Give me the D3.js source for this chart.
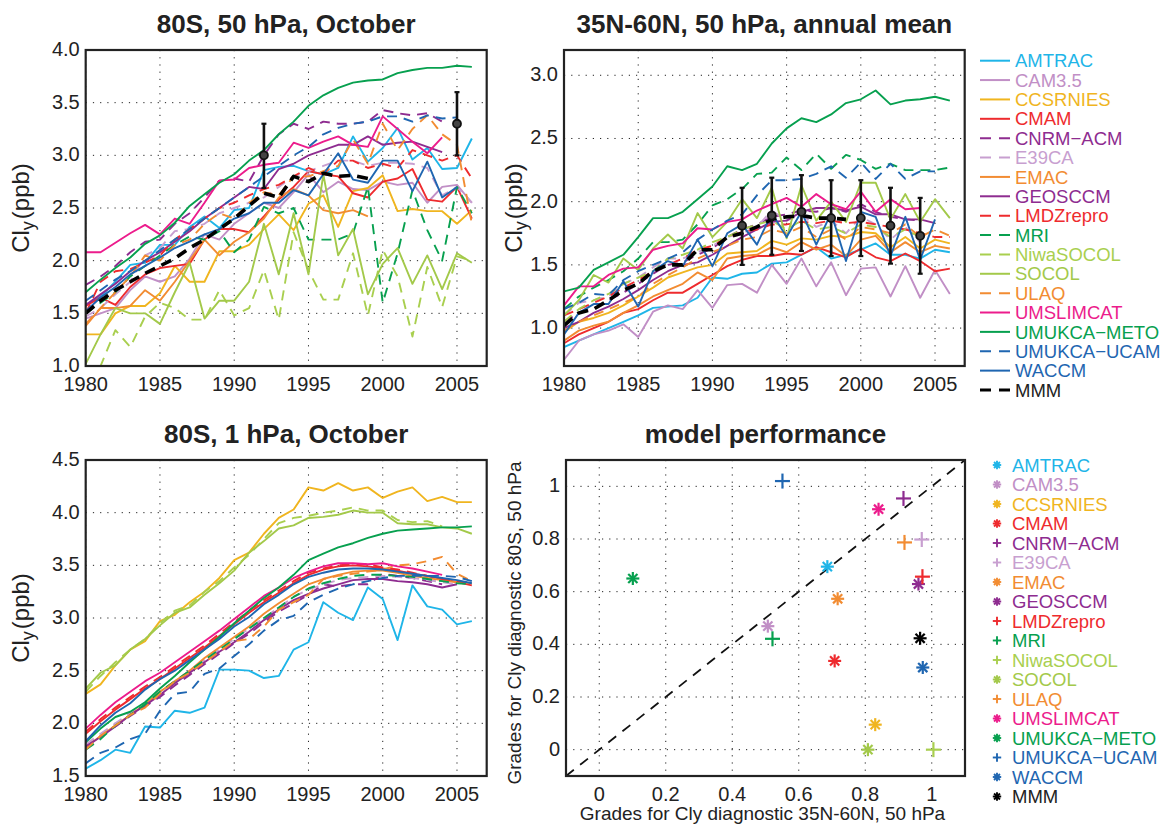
<!DOCTYPE html>
<html>
<head>
<meta charset="utf-8">
<script src="https://cdn.jsdelivr.net/npm/d3@7"></script>
<style>
  body { margin: 0; background: #fff; }
  svg { font-family: "Liberation Sans", Arial, Helvetica, sans-serif; }
</style>
</head>
<body>
<svg id="chart" width="1170" height="827"></svg>
<script>
// ---- data ----
const years = d3.range(1980, 2007);
const models = ['AMTRAC', 'CAM3.5', 'CCSRNIES', 'CMAM', 'CNRM\u2212ACM', 'E39CA', 'EMAC', 'GEOSCCM',
  'LMDZrepro', 'MRI', 'NiwaSOCOL', 'SOCOL', 'ULAQ', 'UMSLIMCAT', 'UMUKCA\u2212METO', 'UMUKCA\u2212UCAM', 'WACCM', 'MMM'];
const modelColors = ['#1fb5e8', '#c18fc6', '#f0b51f', '#ee2b2e', '#8e2c90', '#c89fd0', '#f28c32', '#8e2c90',
  '#ee2b2e', '#07a04f', '#a9cf4f', '#a3c94a', '#f28c32', '#ec1c8c', '#07a04f', '#1f66b1', '#1f66b1', '#000000'];
const modelDashed = [false, false, false, false, true, true, false, false,
  true, true, true, false, true, false, false, true, false, true];

// Cly (ppb), 80S, 50 hPa, October; one row per model, 1980..2006
const cly80S50 = [
  [1.58,1.66,1.80,1.96,1.98,2.15,2.15,2.32,2.42,2.31,2.48,2.50,2.86,2.89,2.90,2.85,2.82,2.88,3.18,2.94,3.07,3.26,2.96,3.07,2.87,2.88,3.16], // AMTRAC
  [1.45,1.50,1.55,1.72,1.85,1.80,1.85,2.02,2.25,2.20,2.35,2.45,2.55,2.50,2.65,2.82,2.65,2.75,2.68,2.67,2.75,2.72,2.74,2.55,2.70,2.72,2.55], // CAM3.5
  [1.30,1.30,1.50,1.57,1.57,1.69,1.95,1.80,1.80,2.09,2.09,2.15,2.30,2.44,2.29,2.54,2.62,2.32,2.66,2.69,2.81,2.47,2.49,2.47,2.47,2.35,2.48], // CCSRNIES
  [1.57,1.65,1.58,1.75,1.87,1.93,1.95,1.97,2.20,2.30,2.30,2.27,2.42,2.58,2.70,2.85,2.82,2.80,2.64,2.60,2.75,2.78,2.87,2.58,2.56,2.70,2.40], // CMAM
  [1.77,1.85,1.95,2.08,2.18,2.20,2.35,2.45,2.60,2.76,2.78,2.75,3.00,3.20,3.30,3.25,3.32,3.30,3.30,3.32,3.43,3.40,3.38,3.40,3.32,null,null], // CNRM-ACM
  [1.47,1.55,1.68,1.80,2.05,2.12,2.28,2.30,2.35,2.45,2.50,2.55,2.60,2.70,2.80,2.85,2.90,2.95,2.95,2.90,2.93,2.93,2.92,2.88,2.62,2.70,2.55], // E39CA
  [1.38,1.55,1.55,1.57,1.72,1.62,1.80,2.00,2.20,2.05,2.18,2.27,2.40,2.60,2.68,2.62,2.48,2.45,2.48,2.42,null,null,null,null,null,null,null], // EMAC
  [1.58,1.68,1.78,1.90,2.00,2.08,2.18,2.28,2.40,2.50,2.60,2.70,2.68,2.87,2.92,3.00,3.05,3.10,3.10,3.18,3.10,3.12,3.13,3.08,3.03,null,null], // GEOSCCM
  [1.50,1.80,1.90,1.92,1.98,2.05,2.20,2.30,2.40,2.50,2.55,2.62,2.68,2.72,2.80,2.88,2.82,2.95,2.95,2.88,2.92,2.88,3.05,3.00,2.95,3.00,2.78], // LMDZrepro
  [1.50,1.60,1.70,1.85,1.95,2.05,2.15,2.23,2.20,2.28,2.08,2.20,2.51,2.45,2.50,2.20,2.20,2.20,2.26,2.70,1.60,2.07,2.67,2.29,2.00,2.70,2.45], // MRI
  [0.90,1.00,1.34,1.18,1.47,1.60,1.55,1.44,1.44,1.72,1.48,1.55,1.91,1.44,2.27,1.91,1.63,1.63,2.07,1.48,2.10,1.85,1.28,1.94,1.56,2.04,2.00], // NiwaSOCOL
  [1.02,1.30,1.55,1.50,1.50,1.40,1.70,1.98,1.45,1.62,1.62,1.80,2.35,1.87,2.45,1.87,2.82,2.05,2.30,1.68,1.97,2.12,1.78,2.05,1.73,2.07,1.98], // SOCOL
  [1.40,1.55,1.70,1.85,2.05,2.00,2.15,2.20,2.35,2.45,2.40,2.55,2.65,2.62,2.80,2.80,2.85,2.90,3.15,2.92,3.30,3.05,3.25,3.38,3.20,3.10,2.35], // ULAQ
  [2.08,2.08,2.17,2.26,2.34,2.25,2.40,2.35,2.55,2.76,2.77,2.88,2.91,2.93,3.12,3.07,3.13,3.18,3.10,3.08,3.37,3.25,3.13,3.02,3.17,null,null], // UMSLIMCAT
  [1.70,1.82,1.93,2.03,2.16,2.24,2.36,2.52,2.63,2.74,2.82,2.95,3.05,3.20,3.32,3.47,3.57,3.64,3.69,3.71,3.72,3.78,3.81,3.83,3.83,3.85,3.84], // UMUKCA-METO
  [1.62,1.72,1.82,1.90,2.00,2.10,2.20,2.30,2.40,2.50,2.60,2.70,2.80,2.90,3.00,3.08,3.20,3.26,3.30,3.32,3.37,3.37,3.32,3.38,3.35,3.36,null], // UMUKCA-UCAM
  [1.52,1.65,1.75,1.87,1.95,2.03,2.12,2.18,2.25,2.30,2.40,2.45,2.55,2.55,2.67,2.62,2.82,3.02,2.77,2.74,2.95,2.95,2.66,2.94,2.60,2.70,null], // WACCM
  [1.50,1.62,1.72,1.80,1.88,1.95,2.02,2.12,2.20,2.30,2.40,2.52,2.64,2.60,2.80,2.75,2.83,2.80,2.81,2.78,null,null,null,null,null,null,null]  // MMM
];

// Cly (ppb), 35N-60N, 50 hPa, annual mean
const cly35N60N50 = [
  [0.85,0.90,0.95,1.00,1.05,1.10,1.16,1.17,1.18,1.24,1.40,1.39,1.43,1.44,1.51,1.52,1.58,1.64,1.55,1.58,1.62,1.67,1.58,1.58,1.55,1.62,1.60], // AMTRAC
  [0.75,0.90,0.95,0.98,1.03,0.93,1.13,1.18,1.15,1.30,1.16,1.34,1.35,1.28,1.50,1.35,1.55,1.33,1.52,1.26,1.47,1.48,1.25,1.49,1.24,1.46,1.27], // CAM3.5
  [0.97,1.05,1.08,1.12,1.18,1.25,1.32,1.40,1.44,1.48,1.50,1.59,1.60,1.61,1.69,1.66,1.71,1.70,1.73,1.72,1.76,1.75,1.64,1.72,1.63,1.70,1.67], // CCSRNIES
  [0.88,0.95,1.00,1.05,1.12,1.15,1.22,1.28,1.28,1.35,1.42,1.49,1.54,1.57,1.57,1.59,1.58,1.64,1.60,1.56,1.63,1.56,1.53,1.59,1.53,1.45,1.47], // CMAM
  [1.05,1.12,1.15,1.22,1.28,1.35,1.43,1.50,1.52,1.58,1.63,1.72,1.78,1.82,1.88,1.90,1.93,1.92,1.95,1.92,1.98,1.92,1.88,1.86,1.85,null,null], // CNRM-ACM
  [1.10,1.20,1.22,1.25,1.35,1.40,1.48,1.55,1.55,1.60,1.65,1.72,1.75,1.80,1.93,1.85,1.90,1.80,1.85,1.75,1.88,1.82,1.70,1.80,1.68,null,null], // E39CA
  [0.90,0.98,1.02,1.05,1.12,1.18,1.25,1.30,1.35,1.44,1.38,1.55,1.57,1.58,1.64,1.60,1.68,1.62,1.66,1.57,1.70,1.73,1.60,1.68,1.60,1.65,1.63], // EMAC
  [1.00,1.05,1.12,1.17,1.23,1.30,1.38,1.45,1.50,1.52,1.58,1.65,1.72,1.78,1.84,1.85,1.92,1.95,1.95,1.93,1.96,1.90,1.90,1.86,1.86,1.83,null], // GEOSCCM
  [1.10,1.15,1.20,1.25,1.32,1.38,1.45,1.50,1.55,1.62,1.65,1.72,1.76,1.78,1.82,1.82,1.84,1.83,1.85,1.83,1.84,1.82,1.80,1.78,1.75,1.72,1.72], // LMDZrepro
  [1.15,1.25,1.32,1.38,1.45,1.55,1.68,1.68,1.70,1.82,1.97,2.02,2.10,2.22,2.23,2.35,2.25,2.38,2.26,2.37,2.33,2.26,2.30,2.25,2.25,2.25,2.27], // MRI
  [1.05,1.15,1.22,1.27,1.35,1.40,1.45,1.55,1.58,1.62,1.68,1.72,1.78,1.82,1.85,1.78,1.85,1.78,1.80,1.75,1.82,1.80,1.72,1.78,1.72,null,null], // NiwaSOCOL
  [1.10,1.22,1.42,1.36,1.55,1.46,1.63,1.74,1.63,1.91,1.72,1.84,2.02,1.87,2.11,1.71,2.13,1.85,2.00,1.84,2.15,2.15,1.86,2.06,1.84,2.02,1.87], // SOCOL
  [0.98,1.05,1.10,1.15,1.20,1.25,1.35,1.42,1.48,1.55,1.60,1.65,1.70,1.72,1.78,1.75,1.80,1.72,1.78,1.70,1.80,1.78,1.75,1.82,1.72,1.78,1.73], // ULAQ
  [1.18,1.33,1.33,1.42,1.47,1.48,1.62,1.65,1.67,1.79,1.78,1.84,1.86,1.93,1.98,2.03,1.96,2.06,1.98,1.94,2.08,1.92,2.02,1.94,1.95,null,null], // UMSLIMCAT
  [1.29,1.32,1.46,1.52,1.58,1.72,1.87,1.87,1.92,2.02,2.12,2.28,2.25,2.30,2.46,2.58,2.66,2.63,2.69,2.78,2.81,2.88,2.77,2.80,2.81,2.83,2.80], // UMUKCA-METO
  [1.15,1.20,1.27,1.26,1.38,1.45,1.50,1.55,1.60,1.70,1.78,1.85,1.90,2.05,2.17,2.17,2.18,2.22,2.28,2.19,2.31,2.18,2.30,2.18,2.24,2.24,null], // UMUKCA-UCAM
  [0.95,1.12,1.19,1.19,1.37,1.17,1.45,1.53,1.49,1.70,1.49,1.75,1.82,1.66,1.91,1.72,1.92,1.66,1.91,1.53,1.92,1.88,1.57,1.88,1.54,1.86,null], // WACCM
  [1.02,1.12,1.15,1.22,1.30,1.35,1.45,1.50,1.50,1.62,1.62,1.72,1.75,1.80,1.86,1.88,1.89,1.87,1.87,1.86,null,null,null,null,null,null,null]  // MMM
];

// Cly (ppb), 80S, 1 hPa, October (CAM3.5 and MMM not shown)
const cly80S1 = [
  [1.57,1.65,1.75,1.72,1.97,1.96,2.12,2.10,2.15,2.51,2.51,2.50,2.43,2.45,2.70,2.77,3.15,3.05,2.98,3.29,3.18,2.79,3.31,3.11,3.08,2.94,2.97], // AMTRAC
  null, // CAM3.5
  [2.28,2.37,2.55,2.70,2.78,2.97,3.03,3.15,3.25,3.38,3.55,3.62,3.80,3.95,4.03,4.24,4.21,4.28,4.21,4.24,4.14,4.20,4.24,4.11,4.15,4.10,4.10], // CCSRNIES
  [1.90,2.02,2.13,2.23,2.33,2.42,2.52,2.62,2.72,2.83,2.94,3.05,3.15,3.24,3.33,3.41,3.46,3.49,3.50,3.49,3.47,3.45,3.42,3.40,3.37,3.34,3.31], // CMAM
  [1.78,1.88,1.97,2.07,2.16,2.25,2.36,2.46,2.56,2.66,2.76,2.85,2.96,3.06,3.14,3.22,3.32,3.30,3.32,3.32,3.42,3.40,3.38,3.35,3.32,null,null], // CNRM-ACM
  [1.80,1.90,2.00,2.10,2.20,2.30,2.40,2.50,2.60,2.70,2.80,2.90,3.00,3.10,3.20,3.27,3.32,3.36,3.38,3.39,3.40,3.39,3.38,3.36,3.34,3.32,null], // E39CA
  [1.77,1.88,1.98,2.08,2.18,2.30,2.40,2.50,2.62,2.72,2.82,2.92,3.04,3.14,3.23,3.32,3.37,3.41,3.44,3.45,3.45,3.43,3.40,3.38,3.36,3.34,3.33], // EMAC
  [1.78,1.87,1.97,2.08,2.17,2.27,2.38,2.48,2.58,2.68,2.77,2.87,2.98,3.08,3.17,3.23,3.28,3.32,3.36,3.37,3.37,3.35,3.34,3.32,3.29,3.32,null], // GEOSCCM
  [1.92,2.04,2.15,2.25,2.35,2.44,2.54,2.64,2.74,2.85,2.96,3.07,3.17,3.26,3.35,3.43,3.47,3.50,3.51,3.51,3.48,3.46,3.43,3.40,3.37,3.35,3.33], // LMDZrepro
  [1.75,1.85,1.98,2.08,2.18,2.30,2.40,2.50,2.60,2.70,2.80,2.90,3.00,3.10,3.20,3.28,3.33,3.37,3.40,3.41,3.41,3.40,3.39,3.37,3.35,3.33,3.32], // MRI
  [2.30,2.45,2.58,2.70,2.80,2.95,3.07,3.12,3.25,3.35,3.48,3.60,3.75,3.90,3.95,3.97,4.00,4.02,4.05,4.02,4.02,3.93,3.91,3.92,3.87,null,null], // NiwaSOCOL
  [2.33,2.48,2.55,2.70,2.80,2.93,3.05,3.10,3.22,3.33,3.45,3.62,3.73,3.85,3.88,3.95,3.96,3.98,4.02,4.00,4.00,3.90,3.89,3.89,3.86,3.85,3.80], // SOCOL
  [1.75,1.88,1.98,2.08,2.15,2.28,2.40,2.48,2.58,2.68,2.78,2.80,2.92,3.08,3.15,3.22,3.37,3.40,3.42,3.44,3.46,3.50,3.51,3.54,3.58,3.42,3.35], // ULAQ
  [1.95,2.08,2.20,2.30,2.40,2.48,2.58,2.68,2.78,2.88,2.99,3.10,3.21,3.29,3.38,3.44,3.49,3.52,3.52,3.51,3.52,3.49,3.47,3.44,3.41,null,null], // UMSLIMCAT
  [1.82,1.95,2.06,2.11,2.20,2.33,2.45,2.58,2.70,2.82,2.95,3.07,3.19,3.29,3.41,3.55,3.61,3.67,3.71,3.76,3.80,3.83,3.84,3.85,3.86,3.86,3.87], // UMUKCA-METO
  [1.62,1.72,1.77,1.85,1.90,2.12,2.28,2.30,2.47,2.52,2.64,2.75,2.88,2.98,3.02,3.15,3.22,3.28,3.32,3.35,3.38,3.40,3.40,3.40,3.40,3.39,3.35], // UMUKCA-UCAM
  [1.83,1.98,2.10,2.19,2.32,2.42,2.50,2.60,2.70,2.80,2.92,3.01,3.13,3.22,3.32,3.39,3.43,3.46,3.47,3.47,3.46,3.44,3.42,3.40,3.38,3.36,3.33], // WACCM
  null // MMM
];

// observations with uncertainty (black bars)
const obsYears80S50 = [1992, 2005];
const obsMean80S50 = [3.00, 3.30];
const obsLow80S50 = [2.69, 3.00];
const obsHigh80S50 = [3.30, 3.60];
const obsYears35N = [1992, 1994, 1996, 1998, 2000, 2002, 2004];
const obsMean35N = [1.81, 1.89, 1.92, 1.87, 1.87, 1.81, 1.73];
const obsLow35N = [1.50, 1.58, 1.61, 1.57, 1.57, 1.51, 1.43];
const obsHigh35N = [2.11, 2.19, 2.21, 2.17, 2.17, 2.11, 2.03];

// grades (model performance scatter)
const grade35N = [0.686, 0.507, 0.830, 0.708, 0.915, 0.970, 0.717, 0.960, 0.972, 0.521, 1.005, 0.808, 0.918, 0.840, 0.101, 0.551, 0.973, 0.965];
const grade80S = [0.695, 0.469, 0.095, 0.337, 0.954, 0.798, 0.573, 0.629, 0.657, 0.421, 0.000, 0.000, 0.787, 0.913, 0.650, 1.020, 0.312, 0.423];
const gradeMarker = ['*', '*', '*', '*', '+', '+', '*', '*', '+', '+', '+', '*', '+', '*', '*', '+', '*', '*'];

const yearTicks = [1980, 1985, 1990, 1995, 2000, 2005];
const ticks80S50 = [1.0, 1.5, 2.0, 2.5, 3.0, 3.5, 4.0];
const ticks35N = [1.0, 1.5, 2.0, 2.5, 3.0];
const ticks80S1 = [1.5, 2.0, 2.5, 3.0, 3.5, 4.0, 4.5];
const gradeTicks = [0, 0.2, 0.4, 0.6, 0.8, 1];

// ---- drawing ----
const svg = d3.select('#chart');
const gridDash = '1.2,6';

function drawFrame(box, x, y, xTicks, yTicks, xFmt, yFmt) {
  const g = svg.append('g');
  // dotted grid
  g.selectAll('.gx').data(xTicks).enter().append('line')
    .attr('x1', d => x(d)).attr('x2', d => x(d))
    .attr('y1', box.top).attr('y2', box.bottom)
    .attr('stroke', '#222').attr('stroke-width', 1).attr('stroke-dasharray', gridDash);
  g.selectAll('.gy').data(yTicks).enter().append('line')
    .attr('x1', box.left).attr('x2', box.right)
    .attr('y1', d => y(d)).attr('y2', d => y(d))
    .attr('stroke', '#222').attr('stroke-width', 1).attr('stroke-dasharray', gridDash);
  // tick labels
  g.selectAll('.tx').data(xTicks).enter().append('text')
    .attr('x', d => x(d)).attr('y', box.bottom + 25)
    .attr('text-anchor', 'middle').attr('font-size', 20).attr('fill', '#222')
    .text(xFmt);
  g.selectAll('.ty').data(yTicks).enter().append('text')
    .attr('x', box.left - 6).attr('y', d => y(d)).attr('dy', '0.3em')
    .attr('text-anchor', 'end').attr('font-size', 20).attr('fill', '#222')
    .text(yFmt);
  return g;
}

function drawBox(box) {
  svg.append('rect')
    .attr('x', box.left).attr('y', box.top)
    .attr('width', box.right - box.left).attr('height', box.bottom - box.top)
    .attr('fill', 'none').attr('stroke', '#222').attr('stroke-width', 2.2);
}

function drawTitle(box, text) {
  svg.append('text')
    .attr('x', (box.left + box.right) / 2).attr('y', box.top - 17)
    .attr('text-anchor', 'middle').attr('font-size', 26).attr('font-weight', 'bold').attr('fill', '#222')
    .text(text);
}

function drawClyLabel(xPos, box) {
  const t = svg.append('text')
    .attr('transform', `translate(${xPos},${(box.top + box.bottom) / 2}) rotate(-90)`)
    .attr('text-anchor', 'middle').attr('font-size', 24).attr('fill', '#222');
  t.append('tspan').text('Cl');
  t.append('tspan').attr('font-size', 18).attr('dy', 5).text('y');
  t.append('tspan').attr('dy', -5).attr('dx', 2).text('(ppb)');
}

function drawTimePanel(id, box, yDomain, yTicks, series, obs, title, labelX) {
  const x = d3.scaleLinear().domain([1980, 2007]).range([box.left, box.right]);
  const y = d3.scaleLinear().domain(yDomain).range([box.bottom, box.top]);
  drawTitle(box, title);
  drawFrame(box, x, y, yearTicks, yTicks, d => d, d => d.toFixed(1));

  svg.append('clipPath').attr('id', 'clip-' + id)
    .append('rect').attr('x', box.left).attr('y', box.top)
    .attr('width', box.right - box.left).attr('height', box.bottom - box.top);

  const line = d3.line()
    .defined(d => d.v != null)
    .x(d => x(d.year)).y(d => y(d.v));

  const lines = svg.append('g').attr('clip-path', `url(#clip-${id})`);
  series.forEach((vals, i) => {
    if (!vals) return;
    const pts = years.map((yr, k) => ({ year: yr, v: vals[k] }));
    const isMMM = models[i] === 'MMM';
    lines.append('path')
      .datum(pts)
      .attr('d', line)
      .attr('fill', 'none')
      .attr('stroke', modelColors[i])
      .attr('stroke-width', isMMM ? 3.6 : 1.9)
      .attr('stroke-linejoin', 'round')
      .attr('stroke-dasharray', modelDashed[i] ? (isMMM ? '11,7' : '10,7') : null);
  });

  if (obs) {
    const og = svg.append('g');
    obs.years.forEach((yr, k) => {
      const cx = x(yr);
      og.append('line').attr('x1', cx).attr('x2', cx)
        .attr('y1', y(obs.low[k])).attr('y2', y(obs.high[k]))
        .attr('stroke', '#111').attr('stroke-width', 2.6);
      [obs.low[k], obs.high[k]].forEach(v => {
        og.append('line').attr('x1', cx - 2.5).attr('x2', cx + 2.5)
          .attr('y1', y(v)).attr('y2', y(v))
          .attr('stroke', '#111').attr('stroke-width', 2.2);
      });
      og.append('circle').attr('cx', cx).attr('cy', y(obs.mean[k])).attr('r', 4)
        .attr('fill', '#444').attr('stroke', '#111').attr('stroke-width', 1.8);
    });
  }

  drawBox(box);
  drawClyLabel(labelX, box);
}

function drawMarker(g, type, cx, cy, r, color, width) {
  const segs = type === '+'
    ? [[0, 1], [1, 0]]
    : [[0, 1], [1, 0], [0.707, 0.707], [0.707, -0.707]];
  segs.forEach(([dx, dy]) => {
    g.append('line')
      .attr('x1', cx - dx * r).attr('y1', cy - dy * r)
      .attr('x2', cx + dx * r).attr('y2', cy + dy * r)
      .attr('stroke', color).attr('stroke-width', width);
  });
}

// panel boxes
const box1 = { left: 85.7, right: 486.7, top: 50, bottom: 366 };
const box2 = { left: 564, right: 964.7, top: 50, bottom: 366 };
const box3 = { left: 85.7, right: 486.7, top: 460, bottom: 776 };
const box4 = { left: 566, right: 965, top: 460, bottom: 776 };

drawTimePanel('p1', box1, [1, 4], ticks80S50, cly80S50,
  { years: obsYears80S50, mean: obsMean80S50, low: obsLow80S50, high: obsHigh80S50 },
  '80S, 50 hPa, October', 29);
drawTimePanel('p2', box2, [0.7, 3.2], ticks35N, cly35N60N50,
  { years: obsYears35N, mean: obsMean35N, low: obsLow35N, high: obsHigh35N },
  '35N-60N, 50 hPa, annual mean', 522);
drawTimePanel('p3', box3, [1.5, 4.5], ticks80S1, cly80S1, null,
  '80S, 1 hPa, October', 29);

// model performance scatter
{
  const x = d3.scaleLinear().domain([-0.1, 1.1]).range([box4.left, box4.right]);
  const y = d3.scaleLinear().domain([-0.1, 1.1]).range([box4.bottom, box4.top]);
  drawTitle(box4, 'model performance');
  drawFrame(box4, x, y, gradeTicks, gradeTicks, d => String(d), d => String(d));

  svg.append('line')
    .attr('x1', x(-0.1)).attr('y1', y(-0.1)).attr('x2', x(1.1)).attr('y2', y(1.1))
    .attr('stroke', '#111').attr('stroke-width', 1.8).attr('stroke-dasharray', '10,8');

  const mg = svg.append('g');
  models.forEach((m, i) => {
    drawMarker(mg, gradeMarker[i], x(grade35N[i]), y(grade80S[i]),
      gradeMarker[i] === '+' ? 7.5 : 6.5, modelColors[i], 2.2);
  });
  drawBox(box4);

  svg.append('text')
    .attr('x', (box4.left + box4.right) / 2 - 3).attr('y', 820)
    .attr('text-anchor', 'middle').attr('font-size', 19).attr('fill', '#222')
    .text('Grades for Cly diagnostic 35N-60N, 50 hPa');
  svg.append('text')
    .attr('transform', `translate(521,${(box4.top + box4.bottom) / 2 + 5}) rotate(-90)`)
    .attr('text-anchor', 'middle').attr('font-size', 19).attr('fill', '#222')
    .text('Grades for Cly diagnostic 80S, 50 hPa');
}

// legends
{
  const lg = svg.append('g');
  models.forEach((m, i) => {
    const cy = 60.7 + i * 19.37;
    lg.append('line')
      .attr('x1', 980).attr('x2', 1010).attr('y1', cy).attr('y2', cy)
      .attr('stroke', modelColors[i]).attr('stroke-width', m === 'MMM' ? 3.2 : 2)
      .attr('stroke-dasharray', modelDashed[i] ? '11,8' : null);
    lg.append('text')
      .attr('x', 1015).attr('y', cy).attr('dy', '0.36em')
      .attr('font-size', 18.5).attr('fill', modelColors[i] === '#000000' ? '#222' : modelColors[i])
      .text(m);
  });

  const lg2 = svg.append('g');
  models.forEach((m, i) => {
    const cy = 465 + i * 19.5;
    drawMarker(lg2, gradeMarker[i], 997, cy, 4.2, modelColors[i], 1.9);
    lg2.append('text')
      .attr('x', 1012).attr('y', cy).attr('dy', '0.36em')
      .attr('font-size', 18.5).attr('fill', modelColors[i] === '#000000' ? '#222' : modelColors[i])
      .text(m);
  });
}
</script>
</body>
</html>
